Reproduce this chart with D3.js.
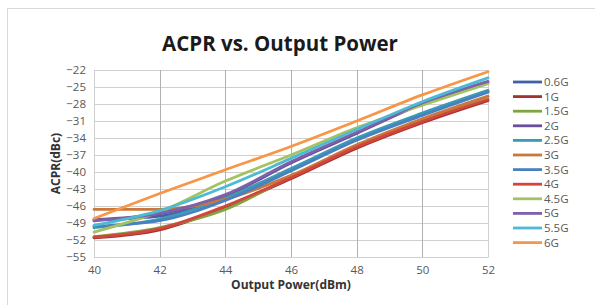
<!DOCTYPE html>
<html>
<head>
<meta charset="utf-8">
<script src="https://cdn.jsdelivr.net/npm/d3@7"></script>
<style>
  html, body { margin: 0; padding: 0; background: #fff; }
  svg { display: block; font-family: "Open Sans", sans-serif; }
</style>
</head>
<body>
<div id="chart"></div>
<script>
// data
const powers = [40, 42, 44, 46, 48, 50, 52];
const bands = ["0.6G", "1G", "1.5G", "2G", "2.5G", "3G", "3.5G", "4G", "4.5G", "5G", "5.5G", "6G"];
const acpr06 = [-48.5, -47.8, -44.5, -39.5, -34.2, -29.8, -25.8];
const acpr1  = [-51.6, -50.2, -46.2, -41.2, -35.8, -31.3, -27.4];
const acpr15 = [-51.4, -49.8, -46.6, -40.8, -35.4, -30.8, -26.7];
const acpr2  = [-48.4, -47.4, -44.2, -38.4, -33.2, -28.0, -24.2];
const acpr25 = [-49.8, -48.3, -44.6, -39.4, -34.0, -29.6, -25.6];
const acpr3  = [-46.6, -46.6, -44.8, -40.6, -35.2, -30.6, -26.6];
const acpr35 = [-49.6, -48.6, -45.0, -39.8, -34.4, -30.0, -25.9];
const acpr4  = [-51.5, -50.0, -46.0, -41.0, -35.6, -31.1, -27.2];
const acpr45 = [-50.6, -47.0, -41.6, -37.0, -32.2, -28.2, -24.4];
const acpr5  = [-48.6, -47.3, -44.0, -38.2, -33.0, -27.8, -24.0];
const acpr55 = [-49.4, -46.8, -42.6, -37.6, -32.5, -27.6, -23.4];
const acpr6  = [-48.2, -43.8, -39.6, -35.5, -31.0, -26.4, -22.3];
const yTicks = [-22, -25, -28, -31, -34, -37, -40, -43, -46, -49, -52, -55];

const allSeries = [acpr06, acpr1, acpr15, acpr2, acpr25, acpr3, acpr35, acpr4, acpr45, acpr5, acpr55, acpr6];
const colors = ["#3f62a8", "#a3332f", "#80a53e", "#6c4f9c", "#3a9bb5", "#c9773a",
                "#4a80c0", "#d3443d", "#a4c260", "#7d61ab", "#4cbad3", "#f79646"];

//--------------------------------------------------
const W = 595, H = 305;
const svg = d3.select("#chart").append("svg")
  .attr("width", W).attr("height", H);

// marco del gráfico
svg.append("rect")
  .attr("x", 7.5).attr("y", 8.5)
  .attr("width", 600).attr("height", 310)
  .attr("fill", "none").attr("stroke", "#d9d9d9");

const x = d3.scaleLinear().domain([40, 52]).range([94, 488]);
const y = d3.scaleLinear().domain([-55, -22]).range([257, 70]);

// grid
svg.append("g")
  .selectAll("line")
  .data(yTicks)
  .join("line")
  .attr("x1", x(40)).attr("x2", x(52))
  .attr("y1", d => Math.round(y(d)) + 0.5)
  .attr("y2", d => Math.round(y(d)) + 0.5)
  .attr("stroke", "#d0d0d0");

svg.append("g")
  .selectAll("line")
  .data(powers)
  .join("line")
  .attr("x1", d => Math.round(x(d)) + 0.5)
  .attr("x2", d => Math.round(x(d)) + 0.5)
  .attr("y1", y(-22)).attr("y2", y(-55))
  .attr("stroke", d => (d === 40 || d === 52) ? "#d0d0d0" : "#b0b0b0");

// axes
const xAxis = svg.append("g")
  .attr("transform", `translate(0,${y(-55)})`)
  .call(d3.axisBottom(x).tickValues(powers).tickSize(0).tickPadding(9));
xAxis.select(".domain").attr("stroke", "#d0d0d0");
xAxis.selectAll("text").attr("font-size", 11.5).attr("fill", "#595959")
  .attr("font-family", "'Open Sans', sans-serif");

const yAxis = svg.append("g")
  .attr("transform", `translate(${x(40)},0)`)
  .call(d3.axisLeft(y).tickValues(yTicks).tickSize(0).tickPadding(8));
yAxis.select(".domain").attr("stroke", "#d0d0d0");
yAxis.selectAll("text").attr("font-size", 11.5).attr("fill", "#595959")
  .attr("font-family", "'Open Sans', sans-serif");

// lines
const line = d3.line()
  .x((d, i) => x(powers[i]))
  .y(d => y(d))
  .curve(d3.curveMonotoneX);

svg.append("g")
  .selectAll("path")
  .data(allSeries)
  .join("path")
  .attr("d", d => line(d))
  .attr("fill", "none")
  .attr("stroke", (d, i) => colors[i])
  .attr("stroke-width", 2.8)
  .attr("stroke-linecap", "round");

// titles
svg.append("text")
  .attr("x", 280).attr("y", 51)
  .attr("text-anchor", "middle")
  .attr("font-size", 20.5).attr("font-weight", "bold")
  .attr("fill", "#1a1a1a")
  .text("ACPR vs. Output Power");

svg.append("text")
  .attr("x", 291).attr("y", 289)
  .attr("text-anchor", "middle")
  .attr("font-size", 12).attr("font-weight", "bold")
  .attr("fill", "#333")
  .text("Output Power(dBm)");

svg.append("text")
  .attr("transform", `translate(60,${(70 + 257) / 2}) rotate(-90)`)
  .attr("text-anchor", "middle")
  .attr("font-size", 12).attr("font-weight", "bold")
  .attr("fill", "#333")
  .text("ACPR(dBc)");

// legend
const leg = svg.append("g")
  .selectAll("g")
  .data(bands)
  .join("g")
  .attr("transform", (d, i) => `translate(513,${82 + i * 14.6})`);

leg.append("line")
  .attr("x1", 0).attr("x2", 29)
  .attr("stroke", (d, i) => colors[i])
  .attr("stroke-width", 2.8);

leg.append("text")
  .attr("x", 31).attr("dy", "0.35em")
  .attr("font-size", 11.5).attr("fill", "#595959")
  .text(d => d);
</script>
</body>
</html>
